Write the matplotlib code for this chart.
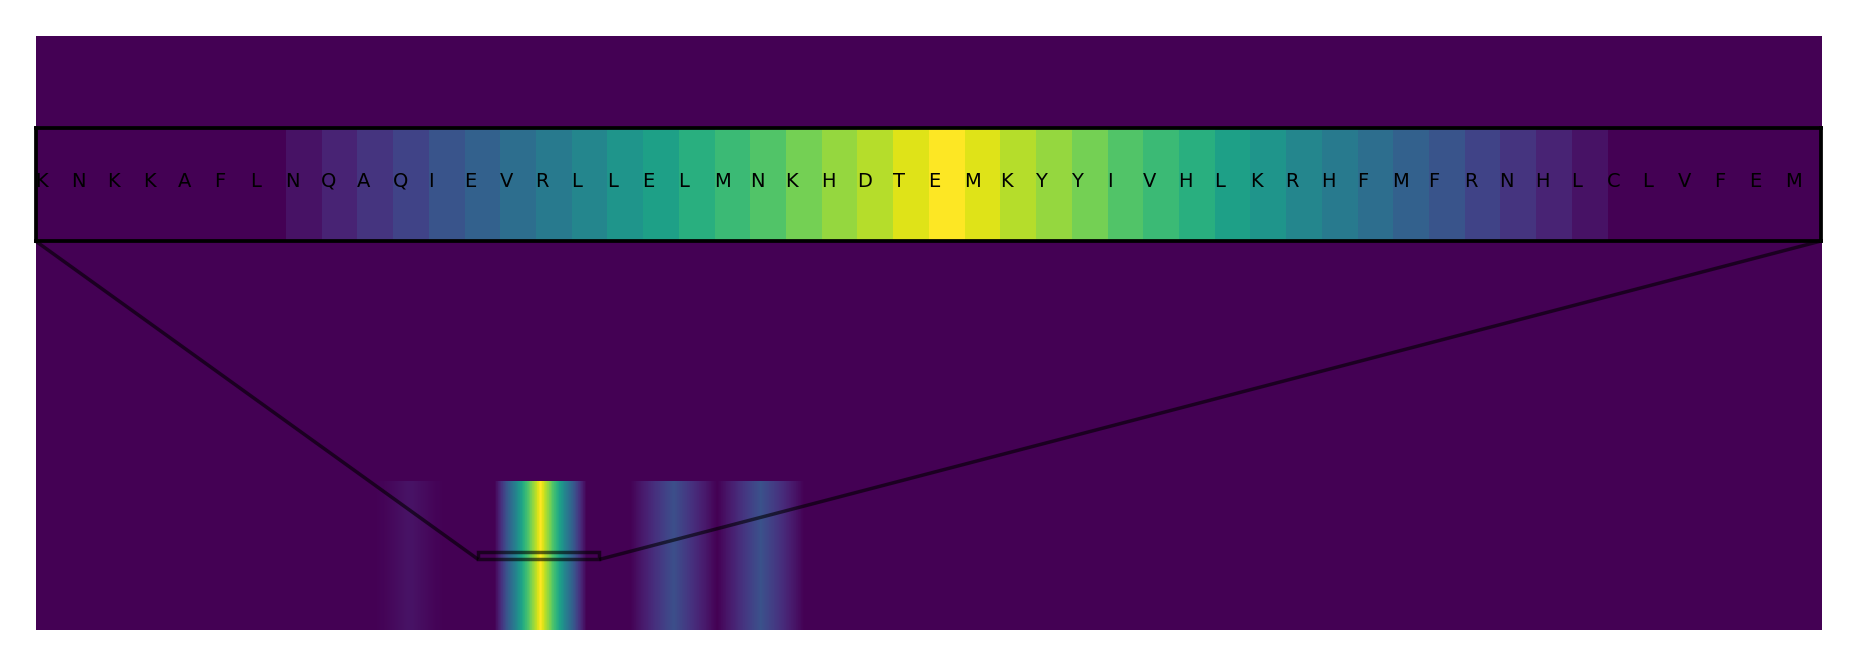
import numpy as np
import matplotlib
matplotlib.use("Agg")
import matplotlib.pyplot as plt
import matplotlib.transforms as mtransforms
from mpl_toolkits.axes_grid1.inset_locator import mark_inset

# ---------------- data ----------------
seq_length = 738

focus_start = 183
focus_residues = list("KNKKAFLNQAQIEVRLLELMNKHDTEMKYYIVHLKRHFMFRNHLCLVFEM")
focus_scores = [0, 0, 0, 0, 0, 0, 0,
                0.05, 0.10, 0.15, 0.20, 0.26, 0.31, 0.36, 0.41, 0.46, 0.52,
                0.57, 0.63, 0.68, 0.73, 0.79, 0.84, 0.89, 0.95, 1.00, 0.95,
                0.89, 0.84, 0.79, 0.73, 0.68, 0.63, 0.57, 0.52, 0.46, 0.41,
                0.36, 0.31, 0.26, 0.20, 0.15, 0.10, 0.05,
                0, 0, 0, 0, 0, 0]

band_a_start = 141
band_a_scores = [0.004, 0.008, 0.011, 0.015, 0.019, 0.023, 0.026, 0.030, 0.034,
                 0.038, 0.041, 0.045, 0.048, 0.050, 0.048, 0.045, 0.041, 0.038,
                 0.034, 0.030, 0.026, 0.023, 0.019, 0.015, 0.011, 0.008, 0.004]

band_c_start = 246
band_c_scores = [0.013, 0.027, 0.040, 0.053, 0.067, 0.080, 0.093, 0.107, 0.120,
                 0.133, 0.147, 0.160, 0.173, 0.187, 0.200, 0.213, 0.227, 0.240,
                 0.227, 0.213, 0.200, 0.187, 0.173, 0.160, 0.147, 0.133, 0.120,
                 0.107, 0.093, 0.080, 0.067, 0.053, 0.040, 0.027, 0.013]

band_d_start = 282
band_d_scores = [0.014, 0.028, 0.042, 0.056, 0.069, 0.083, 0.097, 0.111, 0.125,
                 0.139, 0.153, 0.167, 0.181, 0.194, 0.208, 0.222, 0.236, 0.250,
                 0.236, 0.222, 0.208, 0.194, 0.181, 0.167, 0.153, 0.139, 0.125,
                 0.111, 0.097, 0.083, 0.069, 0.056, 0.042, 0.028, 0.014]

# ---------------- build score track ----------------
scores = np.zeros(seq_length)
for start, vals in [(band_a_start, band_a_scores),
                    (focus_start, focus_scores),
                    (band_c_start, band_c_scores),
                    (band_d_start, band_d_scores)]:
    scores[start:start + len(vals)] = vals
track = scores[None, :]

cmap = plt.get_cmap("viridis")
ymax = 4.0

# ---------------- figure ----------------
fig = plt.figure(figsize=(18.57, 6.67), dpi=100)
ax = fig.add_axes([35.5 / 1857, 37 / 667, 1785.5 / 1857, 594 / 667])
# empty (zero-score) background over the full panel
ax.imshow(np.zeros((1, 1)), cmap=cmap, vmin=0, vmax=1, aspect="auto",
          origin="lower", extent=(0, seq_length, 0, ymax),
          interpolation="nearest")
ax.imshow(track, cmap=cmap, vmin=0, vmax=1, aspect="auto", origin="lower",
          extent=(0, seq_length, 0, 1))
ax.set_xlim(0, seq_length)
ax.set_ylim(0, ymax)
ax.axis("off")

# inset zoom
axins = ax.inset_axes([0, 0.6549, 1, 0.1902])
axins.imshow(track, cmap=cmap, vmin=0, vmax=1, aspect="auto", origin="lower",
             extent=(0, seq_length, 0, 1))
axins.set_xlim(focus_start, focus_start + len(focus_residues))
axins.set_ylim(0.475, 0.525)
axins.set_xticks([])
axins.set_yticks([])
for s in axins.spines.values():
    s.set_linewidth(2.7)
    s.set_color("black")

trans = mtransforms.blended_transform_factory(axins.transData, axins.transAxes)
for i, res in enumerate(focus_residues):
    axins.text(focus_start + i, 0.53, res, transform=trans, ha="left",
               va="center", fontsize=14, color="black")

mark_inset(ax, axins, loc1=3, loc2=4, fc="none", ec="black", alpha=0.6, lw=2.5)

fig.savefig("out.png", dpi=100)
